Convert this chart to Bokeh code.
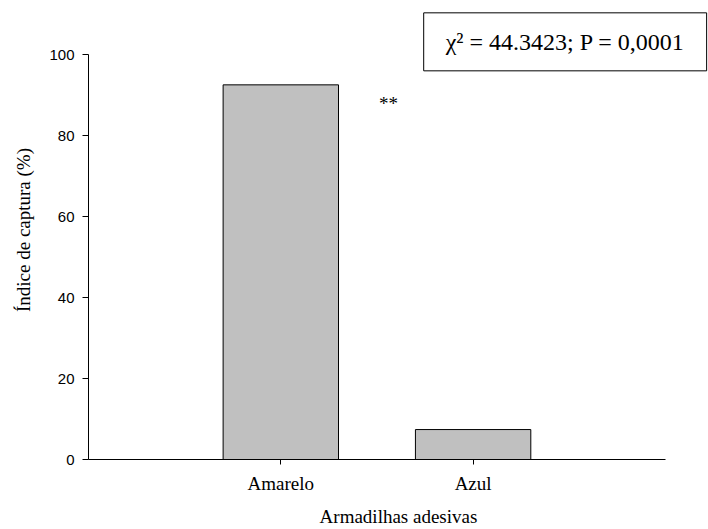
from bokeh.plotting import figure
from bokeh.models import Range1d, FixedTicker, Label, ColumnDataSource
from bokeh.embed import file_html
from bokeh.resources import INLINE

categories = ["Amarelo", "Azul"]
capture_index = [92.6, 7.4]
y_ticks = [0, 20, 40, 60, 80, 100]
stat_text = "χ² = 44.3423; P = 0,0001"
signif_text = "**"

xs = [i + 1 for i in range(len(categories))]
x_end = len(categories) + 1
src = ColumnDataSource(dict(x=xs, top=capture_index, cat=categories))

# frame extends beyond the axis bounds so the stats box can sit in the top-right corner
p = figure(width=708, height=529, output_backend="svg", toolbar_location=None,
           x_range=Range1d(0, 3.224), y_range=Range1d(0, 113.45),
           min_border_left=88, min_border_right=0, min_border_top=0, min_border_bottom=70)
p.outline_line_color = None
p.grid.visible = False
p.background_fill_color = "white"
p.border_fill_color = "white"

p.vbar(x="x", top="top", width=0.6, bottom=0, source=src,
       fill_color="#c0c0c0", line_color="black", line_width=1)

serif = "Liberation Serif"
sans = "Liberation Sans"

xa = p.xaxis[0]
xa.bounds = (0, x_end)
xa.ticker = FixedTicker(ticks=xs)
xa.major_label_overrides = {x: c for x, c in zip(xs, categories)}
xa.minor_tick_line_color = None
xa.major_tick_out = 5
xa.major_tick_in = 0
xa.major_label_text_font = serif
xa.major_label_text_font_size = "19px"
xa.major_label_text_color = "black"
xa.major_label_standoff = 8
xa.axis_label = "Armadilhas adesivas"
xa.axis_label_text_font = serif
xa.axis_label_text_font_size = "19px"
xa.axis_label_text_font_style = "normal"
xa.axis_label_text_color = "black"
xa.axis_label_standoff = 9
xa.axis_line_color = "black"
xa.major_tick_line_color = "black"

ya = p.yaxis[0]
ya.bounds = (0, 100)
ya.ticker = FixedTicker(ticks=y_ticks)
ya.minor_tick_line_color = None
ya.major_tick_out = 6
ya.major_tick_in = 0
ya.major_label_text_font = sans
ya.major_label_text_font_size = "15px"
ya.major_label_text_color = "black"
ya.major_label_standoff = 8
ya.axis_label = "Índice de captura (%)"
ya.axis_label_text_font = serif
ya.axis_label_text_font_size = "19px"
ya.axis_label_text_font_style = "normal"
ya.axis_label_text_color = "black"
ya.axis_label_standoff = 12
ya.axis_line_color = "black"
ya.major_tick_line_color = "black"

p.add_layout(Label(x=1.56, y=88, text=signif_text, text_font=serif,
                   text_font_size="19px", text_align="center",
                   text_baseline="alphabetic", text_color="black"))

p.add_layout(Label(x=1.743, y=110.4, text=stat_text, text_font=serif,
                   text_font_size="24px", text_color="black",
                   anchor="top_left", padding=(22, 16),
                   border_line_color="black", border_line_width=1,
                   background_fill_color="white"))

open("out.html", "w").write(file_html(p, INLINE))
